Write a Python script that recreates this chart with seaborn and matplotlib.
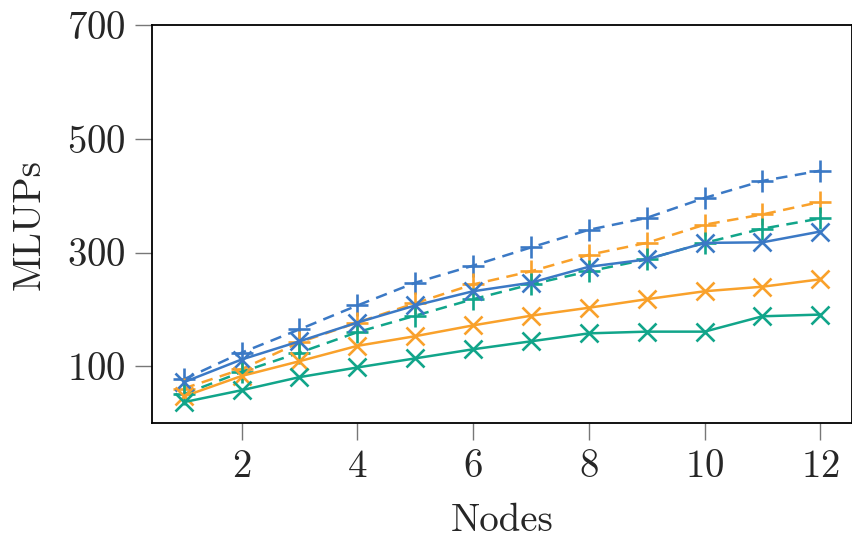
import pandas as pd
import numpy as np
import matplotlib.pyplot as plt
import seaborn as sns

# --------------------------------------------------
# DATA
# --------------------------------------------------
nodes = [1, 2, 3, 4, 5, 6, 7, 8, 9, 10, 11, 12]

blue_plus = [77, 124, 165, 207, 247, 277, 309, 340, 361, 396, 426, 444]
orange_plus = [61, 95, 142, 177, 211, 244, 267, 296, 317, 349, 367, 389]
green_plus = [51, 90, 124, 160, 189, 218, 244, 267, 288, 317, 342, 360]

blue_cross = [72, 112, 144, 177, 207, 232, 247, 275, 288, 317, 318, 337]
orange_cross = [47, 83, 109, 136, 153, 172, 189, 203, 218, 232, 240, 253]
green_cross = [37, 58, 81, 98, 114, 130, 144, 158, 161, 161, 188, 191]

x_ticks = [2, 4, 6, 8, 10, 12]
y_ticks = [100, 300, 500, 700]

BLUE = "#3b79c5"
ORANGE = "#f9a12b"
GREEN = "#11a58a"

# --------------------------------------------------
# PLOT
# --------------------------------------------------
sns.set_theme(style="white")
plt.rcParams['font.family'] = ['cmr10', 'DejaVu Serif']
plt.rcParams['axes.formatter.use_mathtext'] = True

fig = plt.figure(figsize=(8.53, 5.44), dpi=100)
ax = fig.add_axes([0.178, 0.222, 0.821, 0.732])

dashed = (0, (4.6, 3.0))
series = [
    (blue_plus, BLUE, "+", dashed, 16.5),
    (orange_plus, ORANGE, "+", dashed, 16.5),
    (green_plus, GREEN, "+", dashed, 16.5),
    (blue_cross, BLUE, "x", "-", 12.5),
    (orange_cross, ORANGE, "x", "-", 12.5),
    (green_cross, GREEN, "x", "-", 12.5),
]
for vals, col, mk, ls, ms in series:
    sns.lineplot(x=nodes, y=vals, color=col, marker=mk, linestyle=ls,
                 linewidth=1.8, markersize=ms, markeredgewidth=1.9,
                 markeredgecolor=col, ax=ax)

ax.set_xlim(0.45, 12.55)
ax.set_ylim(0, 700)
ax.set_xticks(x_ticks)
ax.set_yticks(y_ticks)
ax.tick_params(axis='both', direction='out', length=12, width=1, color='#777777',
               labelsize=28, pad=7, left=True, bottom=True)
for s in ax.spines.values():
    s.set_color('black')
    s.set_linewidth(1.3)

ax.set_xlabel("Nodes", fontsize=28, labelpad=13)
ax.set_ylabel("MLUPs", fontsize=28, labelpad=14)

plt.savefig("out.png", dpi=100)
